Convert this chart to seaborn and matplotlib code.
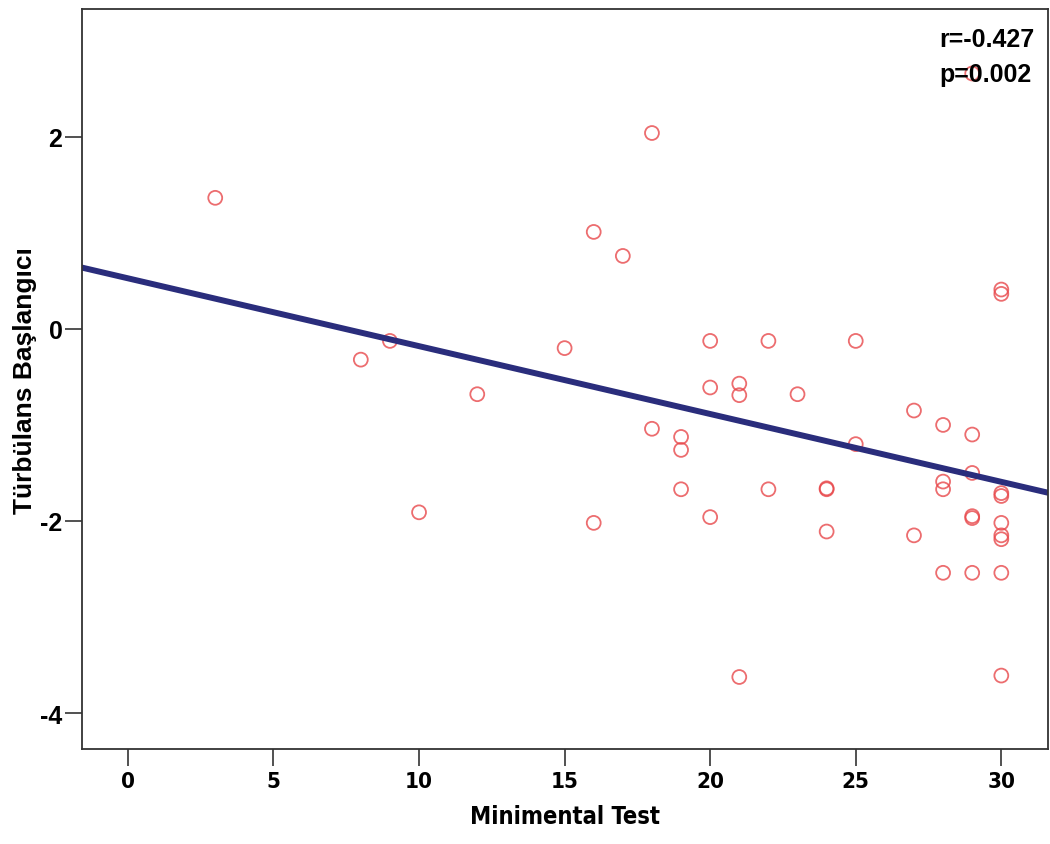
import numpy as np
import pandas as pd
import seaborn as sns
import matplotlib
matplotlib.use('Agg')
import matplotlib.pyplot as plt

# values
minimental = [3, 8, 9, 10, 12, 15, 16, 16, 17, 18, 18, 19, 19, 19, 20, 20, 20,
              21, 21, 21, 22, 22, 23, 24, 24, 24, 25, 25, 27, 27, 28, 28, 28, 28,
              29, 29, 29, 29, 29, 29, 30, 30, 30, 30, 30, 30, 30, 30, 30]
turbulans = [1.365, -0.32, -0.125, -1.91, -0.68, -0.2, 1.01, -2.02, 0.76, 2.04, -1.04,
             -1.125, -1.26, -1.67, -0.125, -0.61, -1.96, -0.57, -0.69, -3.625,
             -0.125, -1.67, -0.68, -1.66, -1.67, -2.11, -0.125, -1.2, -0.85, -2.15,
             -1.0, -1.59, -1.67, -2.54, 2.66, -1.1, -1.5, -1.95, -1.97, -2.54,
             0.41, 0.365, -1.71, -1.74, -2.02, -2.15, -2.19, -2.54, -3.61]
x_ticks = [0, 5, 10, 15, 20, 25, 30]
y_ticks = [2, 0, -2, -4]
stat_text = ['r=-0.427', 'p=0.002']

df = pd.DataFrame({'Minimental Test': minimental, 'Türbülans Başlangıcı': turbulans})

sns.set_style('white')
plt.rcParams['font.family'] = ['Liberation Sans', 'DejaVu Sans']
plt.rcParams['axes.unicode_minus'] = False
plt.rcParams['text.color'] = 'black'
plt.rcParams['axes.labelcolor'] = 'black'
plt.rcParams['xtick.color'] = 'black'
plt.rcParams['ytick.color'] = 'black'

fig = plt.figure(figsize=(10.5, 8.45), dpi=100)
ax = fig.add_axes([0.078, 0.1124, 0.92, 0.8756])
# limits first so the fit line spans the whole axis
ax.set_xlim(-1.58, 31.6)
ax.set_ylim(-4.375, 3.33)

sns.regplot(data=df, x='Minimental Test', y='Türbülans Başlangıcı', ax=ax, ci=None,
            truncate=False,
            scatter_kws=dict(marker='o', s=100, facecolors='none', edgecolors='#e8484b',
                             linewidths=1.3),
            line_kws=dict(color='#2a2d7c', linewidth=4.3))

ax.set_xlim(-1.58, 31.6)
ax.set_ylim(-4.375, 3.33)
ax.set_xticks(x_ticks)
ax.set_yticks(y_ticks)
for s in ax.spines.values():
    s.set_color('#333333')
    s.set_linewidth(1.3)
ax.tick_params(axis='both', which='major', direction='out', length=12, width=1.2,
               color='#333333', labelsize=16, bottom=True, left=True, top=False, right=False)
ax.tick_params(axis='y', labelsize=18, pad=2)
for lab in ax.get_xticklabels():
    lab.set_fontweight('bold')
    lab.set_family('DejaVu Sans')
    lab.set_stretch('condensed')
for lab in ax.get_yticklabels():
    lab.set_fontweight('bold')
ax.set_xlabel('Minimental Test', fontsize=17, fontweight='bold', labelpad=10,
              family='DejaVu Sans', stretch='condensed')
ax.set_ylabel('Türbülans Başlangıcı', fontsize=19, fontweight='bold', labelpad=2)

ax.text(0.888, 0.959, stat_text[0], transform=ax.transAxes, fontsize=18, fontweight='bold',
        va='center', ha='left')
ax.text(0.888, 0.912, stat_text[1], transform=ax.transAxes, fontsize=18, fontweight='bold',
        va='center', ha='left')

fig.savefig('out.png', dpi=100)
